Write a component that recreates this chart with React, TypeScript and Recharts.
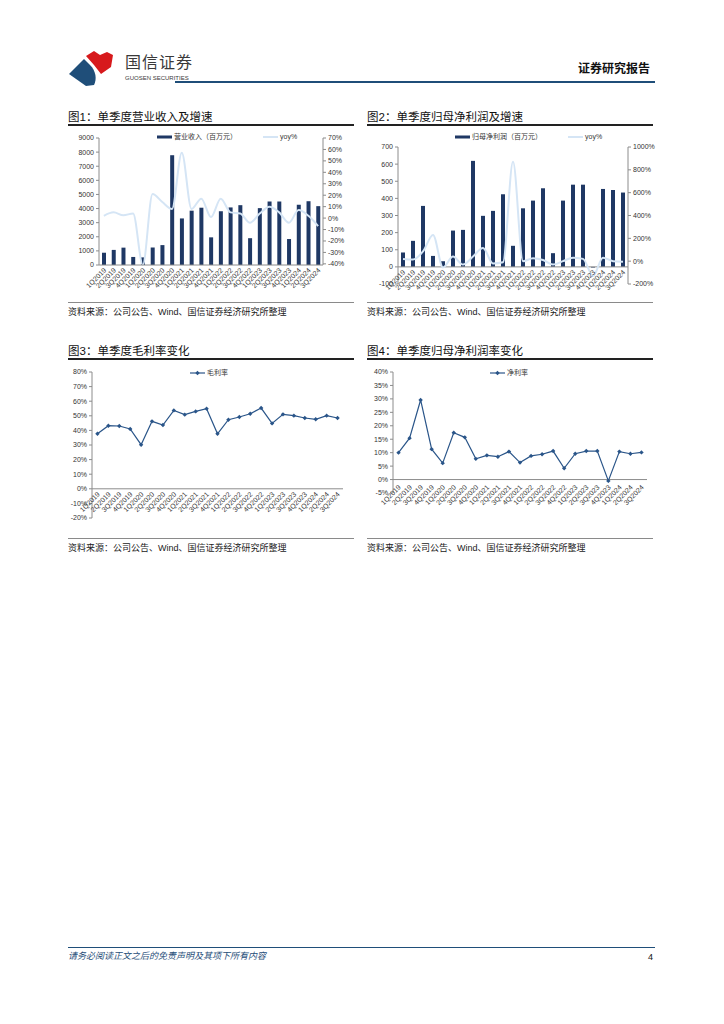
import { ComposedChart, Bar, Line, XAxis, YAxis, Legend, ReferenceLine } from "recharts"

const quarters = [
  "1Q2019", "2Q2019", "3Q2019", "4Q2019",
  "1Q2020", "2Q2020", "3Q2020", "4Q2020",
  "1Q2021", "2Q2021", "3Q2021", "4Q2021",
  "1Q2022", "2Q2022", "3Q2022", "4Q2022",
  "1Q2023", "2Q2023", "3Q2023", "4Q2023",
  "1Q2024", "2Q2024", "3Q2024",
]

// 图1 营业收入（百万元）及 yoy%
const revenue = [870, 1070, 1230, 570, 540, 1240, 1410, 7780, 3300, 3850, 4060, 1960, 3810, 4080, 4240, 1900, 4030, 4500, 4500, 1840, 4270, 4520, 4170]
const revenueYoy = [2, 5, 2.5, 4, -41, 21, 14, 8, 57, 8, 17, 1, 17, 5, 4, -4, 4, 10, 5, -4, 7, 2, -7]

// 图2 归母净利润（百万元）及 yoy%
const profit = [84, 152, 356, 64, 33, 212, 216, 619, 298, 327, 424, 123, 342, 387, 459, 80, 387, 480, 480, -4, 455, 449, 434]
const profitYoy = [20, 15, 85, 230, -55, 40, -30, 40, 115, -20, -10, 870, 0, 25, 10, -30, 0, 30, 20, -130, 30, 0, -5]

// 图3 毛利率 / 图4 净利率 (%)
const grossMargin = [37.7, 43.2, 43, 41, 30.2, 46.2, 43.7, 53.7, 50.8, 53, 54.9, 37.7, 47.3, 49.2, 51.4, 55.3, 44.8, 51, 50.1, 48.5, 47.6, 50.1, 48.5]
const netMargin = [10, 15.4, 29.6, 11.3, 6.1, 17.4, 15.7, 7.7, 9, 8.5, 10.4, 6.3, 8.8, 9.4, 10.6, 4.2, 9.6, 10.6, 10.6, -0.5, 10.4, 9.6, 10.1]

const revenueTicks = [0, 1000, 2000, 3000, 4000, 5000, 6000, 7000, 8000, 9000]
const revenueYoyTicks = [-40, -30, -20, -10, 0, 10, 20, 30, 40, 50, 60, 70]
const profitTicks = [-100, 0, 100, 200, 300, 400, 500, 600, 700]
const profitYoyTicks = [-200, 0, 200, 400, 600, 800, 1000]
const grossTicks = [-20, -10, 0, 10, 20, 30, 40, 50, 60, 70, 80]
const netTicks = [-5, 0, 5, 10, 15, 20, 25, 30, 35, 40]

const revenueData = quarters.map((q, i) => ({ q, rev: revenue[i], yoy: revenueYoy[i] }))
const profitData = quarters.map((q, i) => ({ q, np: profit[i], yoy: profitYoy[i] }))
const grossData = quarters.map((q, i) => ({ q, gm: grossMargin[i] }))
const netData = quarters.map((q, i) => ({ q, nm: netMargin[i] }))

const NAVY = "#1f3864"
const LINE_BLUE = "#2a5589"
const LIGHT = "#d5e5f5"
const AXIS = "#8c8c8c"
const TXT = "#333"
const CJK = "'Liberation Sans', 'Noto Sans CJK SC', sans-serif"

const pct = (v: number) => `${v}%`
const tickStyle = { fontSize: 7, fill: TXT, fontFamily: "'Liberation Sans', sans-serif" }

function QuarterTick({ x, y, payload, lift = 0 }: any) {
  return (
    <g transform={`translate(${x},${y - lift})`}>
      <text x={0} y={0} dy={4} textAnchor="end" transform="rotate(-45)" {...tickStyle}>
        {payload.value}
      </text>
    </g>
  )
}

function Diamond({ cx, cy }: any) {
  if (cx == null || cy == null) return <g />
  return <path d={`M${cx},${cy - 2.2}L${cx + 2.2},${cy}L${cx},${cy + 2.2}L${cx - 2.2},${cy}Z`} fill={LINE_BLUE} />
}

function SeriesLegend({ payload, marker }: any) {
  // bars first, then lines, as in the original legend
  const items = [...(payload || [])].sort((a: any, b: any) => (a.type === "rect" ? 0 : 1) - (b.type === "rect" ? 0 : 1))
  return (
    <div style={{ display: "flex", gap: 26, alignItems: "center", fontSize: 7, color: TXT, fontFamily: CJK, lineHeight: "9px" }}>
      {items.map((p: any) => (
        <div key={p.value} style={{ display: "flex", alignItems: "center", gap: 2 }}>
          <svg width={15} height={6}>
            {p.type === "rect" ? (
              <rect x={0} y={1.5} width={15} height={3} fill={p.color} />
            ) : (
              <line x1={0} x2={15} y1={3} y2={3} stroke={p.color} strokeWidth={marker ? 1.2 : 2} />
            )}
            {marker && <path d="M7.5,0.8L9.7,3L7.5,5.2L5.3,3Z" fill={p.color} />}
          </svg>
          <span>{p.value}</span>
        </div>
      ))}
    </div>
  )
}

const box = (left: number, top: number) => ({ position: "absolute" as const, left, top })

function Title({ left, top, text }: { left: number; top: number; text: string }) {
  return (
    <>
      <div style={{ ...box(left, top), fontSize: 11.5, color: "#111", fontFamily: CJK, lineHeight: "14px", whiteSpace: "nowrap" }}>{text}</div>
      <div style={{ ...box(left, top + 14), width: 286, height: 1.5, background: "#222" }} />
    </>
  )
}

function Source({ left, top }: { left: number; top: number }) {
  return (
    <>
      <div style={{ ...box(left, top), width: 286, height: 1, background: "#8a8a8a" }} />
      <div style={{ ...box(left, top + 4), fontSize: 9, color: "#222", fontFamily: CJK, lineHeight: "12px", whiteSpace: "nowrap" }}>
        资料来源：公司公告、Wind、国信证券经济研究所整理
      </div>
    </>
  )
}

export default function App() {
  return (
    <div style={{ position: "absolute", left: 0, top: 0, width: 724, height: 1024, background: "#fff", fontFamily: CJK }}>
      {/* header */}
      <svg style={box(69, 50)} width={50} height={36}>
        <path d="M0,24 L15,9 L21,15 C27,21 28,29 25,35 L17,36 Z" fill="#1f4e79" />
        <path d="M17,6 L25,1 L31,5 L38,2 L44,5 L42,17 L32,24 L25,15 Z" fill="#d7191c" />
      </svg>
      <div style={{ ...box(125, 53), fontSize: 16, color: "#3a3a3a", lineHeight: "20px", letterSpacing: 1 }}>国信证券</div>
      <div style={{ ...box(125, 74), fontSize: 6, color: "#3a3a3a", lineHeight: "8px", fontFamily: "'Liberation Sans', sans-serif" }}>GUOSEN SECURITIES</div>
      <div style={{ ...box(578, 62), fontSize: 12, fontWeight: 700, color: "#111", lineHeight: "15px" }}>证券研究报告</div>
      <div style={{ ...box(175, 81), width: 480, height: 2, background: "#1f4e79" }} />

      {/* 图1 */}
      <Title left={68} top={110} text="图1：单季度营业收入及增速" />
      <div style={box(60, 128)}>
        <ComposedChart width={300} height={175} data={revenueData} margin={{ top: 10, right: 0, bottom: 0, left: 0 }}>
          <XAxis dataKey="q" interval={0} height={38} tickSize={0} tickMargin={3} tickLine={false} stroke={AXIS} tick={(p: any) => <QuarterTick {...p} />} />
          <YAxis yAxisId="left" width={39} domain={[0, 9000]} ticks={revenueTicks} tickSize={3} stroke={AXIS} tick={tickStyle} interval={0} />
          <YAxis yAxisId="right" orientation="right" width={37} domain={[-40, 70]} ticks={revenueYoyTicks} tickFormatter={pct} tickSize={3} stroke={AXIS} tick={tickStyle} interval={0} />
          <Legend verticalAlign="middle" align="center" layout="horizontal" wrapperStyle={{ top: 4, left: 97, width: 200 }} content={(p: any) => <SeriesLegend {...p} />} />
          <Bar yAxisId="left" dataKey="rev" name="营业收入（百万元）" fill={NAVY} barSize={4} legendType="rect" isAnimationActive={false} />
          <Line yAxisId="right" dataKey="yoy" name="yoy%" type="monotone" stroke={LIGHT} strokeWidth={2} dot={false} legendType="line" isAnimationActive={false} />
        </ComposedChart>
      </div>
      <Source left={68} top={302} />

      {/* 图2 */}
      <Title left={367} top={110} text="图2：单季度归母净利润及增速" />
      <div style={box(360, 128)}>
        <ComposedChart width={300} height={175} data={profitData} margin={{ top: 19, right: 0, bottom: 0, left: 0 }}>
          <XAxis dataKey="q" interval={0} height={19} tickSize={0} tickMargin={3} tickLine={false} axisLine={false} tick={(p: any) => <QuarterTick {...p} lift={17} />} />
          <YAxis yAxisId="left" width={38} domain={[-100, 700]} ticks={profitTicks} tickSize={3} stroke={AXIS} tick={tickStyle} interval={0} />
          <YAxis yAxisId="right" orientation="right" width={32} domain={[-200, 1000]} ticks={profitYoyTicks} tickFormatter={pct} tickSize={3} stroke={AXIS} tick={tickStyle} interval={0} />
          <ReferenceLine yAxisId="left" y={0} stroke={AXIS} />
          <Legend verticalAlign="middle" align="center" layout="horizontal" wrapperStyle={{ top: 4, left: 95, width: 200 }} content={(p: any) => <SeriesLegend {...p} />} />
          <Bar yAxisId="left" dataKey="np" name="归母净利润（百万元）" fill={NAVY} barSize={4} legendType="rect" isAnimationActive={false} />
          <Line yAxisId="right" dataKey="yoy" name="yoy%" type="monotone" stroke={LIGHT} strokeWidth={2} dot={false} legendType="line" isAnimationActive={false} />
        </ComposedChart>
      </div>
      <Source left={367} top={302} />

      {/* 图3 */}
      <Title left={68} top={344} text="图3：单季度毛利率变化" />
      <div style={box(60, 362)}>
        <ComposedChart width={300} height={175} data={grossData} margin={{ top: 10, right: 17, bottom: 0, left: 0 }}>
          <XAxis dataKey="q" scale="band" interval={0} height={19} tickSize={0} tickMargin={3} tickLine={false} axisLine={false} tick={(p: any) => <QuarterTick {...p} lift={29} />} />
          <YAxis width={32} domain={[-20, 80]} ticks={grossTicks} tickFormatter={pct} tickSize={3} stroke={AXIS} tick={tickStyle} interval={0} />
          <ReferenceLine y={0} stroke={AXIS} />
          <Legend verticalAlign="middle" align="center" layout="horizontal" wrapperStyle={{ top: 6, left: 130, width: 100 }} content={(p: any) => <SeriesLegend {...p} marker />} />
          <Line dataKey="gm" name="毛利率" type="linear" stroke={LINE_BLUE} strokeWidth={1.2} dot={(p: any) => <Diamond key={p.index} {...p} />} legendType="line" isAnimationActive={false} />
        </ComposedChart>
      </div>
      <Source left={68} top={538} />

      {/* 图4 */}
      <Title left={367} top={344} text="图4：单季度归母净利润率变化" />
      <div style={box(360, 362)}>
        <ComposedChart width={300} height={175} data={netData} margin={{ top: 10, right: 13, bottom: 0, left: 0 }}>
          <XAxis dataKey="q" scale="band" interval={0} height={44} tickSize={0} tickMargin={3} tickLine={false} axisLine={false} tick={(p: any) => <QuarterTick {...p} lift={11} />} />
          <YAxis width={33} domain={[-5, 40]} ticks={netTicks} tickFormatter={pct} tickSize={3} stroke={AXIS} tick={tickStyle} interval={0} />
          <ReferenceLine y={0} stroke={AXIS} />
          <Legend verticalAlign="middle" align="center" layout="horizontal" wrapperStyle={{ top: 6, left: 130, width: 100 }} content={(p: any) => <SeriesLegend {...p} marker />} />
          <Line dataKey="nm" name="净利率" type="linear" stroke={LINE_BLUE} strokeWidth={1.2} dot={(p: any) => <Diamond key={p.index} {...p} />} legendType="line" isAnimationActive={false} />
        </ComposedChart>
      </div>
      <Source left={367} top={538} />

      {/* footer */}
      <div style={{ ...box(68, 947), width: 587, height: 1, background: "#1f4e79" }} />
      <div style={{ ...box(68, 950), fontSize: 9, fontStyle: "italic", color: "#1f4e79", lineHeight: "12px" }}>请务必阅读正文之后的免责声明及其项下所有内容</div>
      <div style={{ ...box(648, 951), fontSize: 9, color: "#111", lineHeight: "12px", fontFamily: "'Liberation Sans', sans-serif" }}>4</div>
    </div>
  )
}
